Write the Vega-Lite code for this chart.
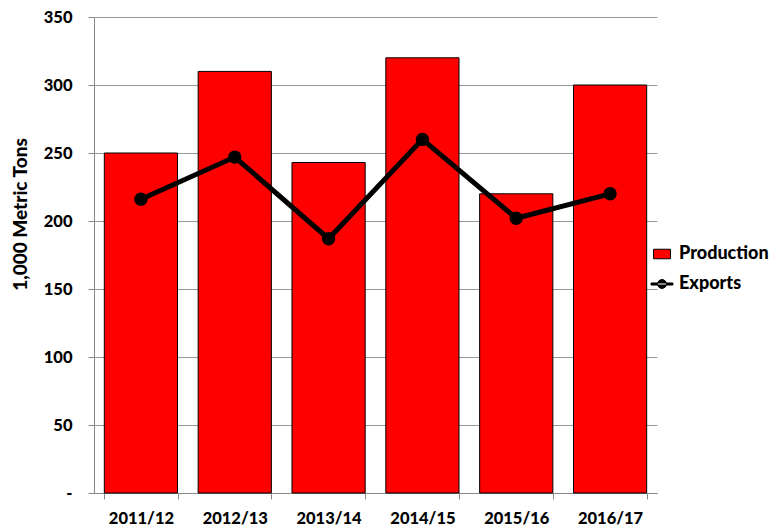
{
  "$schema": "https://vega.github.io/schema/vega-lite/v6.json",
  "autosize": {"type": "none"},
  "padding": {"left": 94, "top": 17, "right": 124, "bottom": 36},
  "width": 563,
  "height": 476,
  "config": {
    "font": "Lato",
    "view": {"stroke": null},
    "axis": {"labelFont": "Lato", "labelFontWeight": 900, "labelColor": "black", "labelFontSize": 16.5, "titleFont": "Lato", "titleFontSize": 19, "titleFontWeight": 900, "titleColor": "black"},
    "legend": {"labelFont": "Lato", "labelFontWeight": 900, "labelColor": "black", "labelFontSize": 18}
  },
  "data": {
    "values": [
      {"year": "2011/12", "Production": 250, "Exports": 216},
      {"year": "2012/13", "Production": 310, "Exports": 247},
      {"year": "2013/14", "Production": 243, "Exports": 187},
      {"year": "2014/15", "Production": 320, "Exports": 260},
      {"year": "2015/16", "Production": 220, "Exports": 202},
      {"year": "2016/17", "Production": 300, "Exports": 220}
    ]
  },
  "encoding": {
    "x": {
      "field": "year", "type": "nominal", "sort": null, "title": null,
      "scale": {"paddingInner": 0.22, "paddingOuter": 0.11},
      "axis": {"labelAngle": 0, "labelPadding": 11, "tickBand": "extent", "tickSize": 6, "tickColor": "#888888", "domainColor": "#888888", "grid": false}
    }
  },
  "layer": [
    {
      "mark": {"type": "bar", "stroke": "black", "strokeWidth": 1},
      "transform": [{"calculate": "'Production'", "as": "s1"}],
      "encoding": {
        "y": {
          "field": "Production", "type": "quantitative",
          "title": "1,000 Metric Tons",
          "scale": {"domain": [0, 350], "nice": false},
          "axis": {
            "values": [0, 50, 100, 150, 200, 250, 300, 350],
            "labelExpr": "datum.value == 0 ? '-\u00a0\u00a0\u00a0\u00a0\u00a0\u00a0' : datum.label",
            "gridColor": "#999999", "domainColor": "#888888", "tickColor": "#888888",
            "tickSize": 6, "labelPadding": 16,
            "titleFontSize": 19, "titleY": 197, "titleX": -74, "titleAlign": "center", "titleBaseline": "middle", "titleAngle": -90
          }
        },
        "fill": {
          "field": "s1", "type": "nominal",
          "scale": {"domain": ["Production"], "range": ["#ff0000"]},
          "legend": {
            "title": null, "orient": "none", "legendX": 559, "legendY": 228,
            "symbolType": "M-1.6,-0.9L1.6,-0.9L1.6,0.9L-1.6,0.9Z",
            "symbolSize": 112, "symbolStrokeColor": "black", "symbolStrokeWidth": 1,
            "symbolOpacity": 1, "labelOffset": 8
          }
        }
      }
    },
    {
      "mark": {"type": "line", "color": "black", "strokeWidth": 5, "point": {"filled": true, "size": 130, "color": "black"}},
      "transform": [{"calculate": "'Exports'", "as": "s2"}],
      "encoding": {
        "y": {"field": "Exports", "type": "quantitative", "title": "1,000 Metric Tons"},
        "stroke": {
          "field": "s2", "type": "nominal",
          "scale": {"domain": ["Exports"], "range": ["black"]},
          "legend": {
            "title": null, "orient": "none", "legendX": 559, "legendY": 258,
            "symbolType": "M-1.6,-0.15L1.6,-0.15L1.6,0.15L-1.6,0.15Z M-0.65,0A0.65,0.65 0 1,0 0.65,0A0.65,0.65 0 1,0 -0.65,0Z",
            "symbolSize": 187, "symbolFillColor": "black", "symbolStrokeColor": "black", "symbolStrokeWidth": 1,
            "labelOffset": 8
          }
        }
      }
    }
  ]
}
